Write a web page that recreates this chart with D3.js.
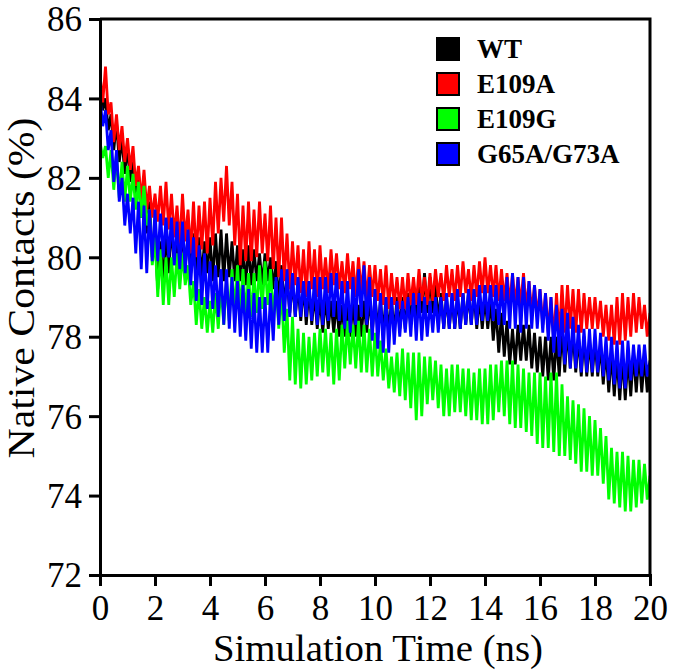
<!DOCTYPE html>
<html>
<head>
<meta charset="utf-8">
<script src="https://cdn.jsdelivr.net/npm/d3@7"></script>
<style>
  html, body { margin: 0; padding: 0; background: #fff; }
  svg { display: block; }
</style>
</head>
<body>
<svg id="chart" width="675" height="671"></svg>
<script>
// ---------------- data ----------------
const seriesNames = ["WT", "E109A", "E109G", "G65A/G73A"];
const seriesColors = ["#000000", "#ff0000", "#00ff00", "#0000ff"];
const xTicks = [0, 2, 4, 6, 8, 10, 12, 14, 16, 18, 20];
const yTicks = [72, 74, 76, 78, 80, 82, 84, 86];
const timeStepNs = 0.1;

const wtValues = [
84.2,83.7,84.0,83.2,83.6, 82.7,83.4,82.4,83.0,82.1, 82.8,81.9,82.5,81.5,82.1, 81.0,81.8,80.6,81.4,80.0,
80.6,79.2,80.4,79.3,80.7, 79.6,80.8,79.8,80.5,79.7, 80.6,79.8,80.5,79.6,80.6, 79.6,80.5,79.5,80.4,79.6,
80.5,79.4,80.6,79.5,80.7, 79.4,80.6,79.5,80.4,79.4, 80.3,79.4,80.2,79.3,80.3, 79.3,80.2,79.4,80.1,79.3,
80.1,79.4,80.0,79.2,79.9, 78.9,79.8,78.8,79.5,78.6, 79.4,78.5,79.3,78.4,79.3, 78.3,79.2,78.3,79.1,78.2,
79.0,78.1,79.0,78.2,78.9, 78.1,78.9,78.0,78.8,78.0, 78.8,78.0,78.9,78.0,78.8, 78.0,78.9,78.1,79.0,78.1,
79.0,78.2,78.9,78.1,79.0, 78.1,78.9,78.1,79.0,78.2, 79.0,78.2,79.1,78.3,79.3, 78.5,79.4,78.6,79.6,78.6,
79.5,78.6,79.3,78.4,79.1, 78.2,79.0,78.2,79.0,78.2, 79.0,78.2,79.1,78.3,79.1, 78.3,79.1,78.2,79.0,78.2,
79.0,78.2,78.9,77.9,78.7, 77.6,78.6,77.5,78.4,77.3, 78.2,77.3,78.3,77.4,78.3, 77.4,78.3,77.2,78.1,77.1,
78.0,77.0,78.0,76.9,78.0, 76.9,78.0,77.0,78.2,77.1, 78.2,77.2,78.1,77.1,78.0, 77.0,78.0,77.0,77.9,77.0,
77.9,77.0,77.8,76.8,77.7, 76.6,77.6,76.5,77.5,76.4, 77.5,76.4,77.5,76.5,77.6, 76.6,77.6,76.6,77.5,76.6,
77.2];

const e109aValues = [
84.6,83.9,84.8,83.6,83.9, 82.9,83.6,82.7,83.3,82.4, 83.0,82.2,82.8,81.8,82.3, 81.4,82.2,81.2,81.8,81.0,
81.6,80.9,81.8,80.8,81.9, 80.7,81.6,80.5,81.3,80.3, 81.6,80.4,81.2,80.1,81.4, 80.0,81.3,80.2,81.4,80.1,
81.5,80.3,81.9,80.6,82.0, 80.9,82.3,80.8,81.9,80.3, 81.6,79.8,81.3,79.9,81.4, 79.9,81.2,80.0,81.4,80.1,
81.1,79.9,81.3,79.7,81.0, 79.5,81.0,79.4,80.6,79.2, 80.4,79.3,80.3,79.1,80.2, 79.0,80.4,79.2,80.2,79.0,
80.3,79.2,80.0,79.1,80.2, 79.3,80.1,79.2,79.9,79.1, 80.1,79.2,79.9,79.0,80.0, 79.1,79.9,78.9,79.8,79.0,
79.8,78.9,79.7,78.8,79.8, 78.7,79.6,78.8,79.5,78.7, 79.5,78.7,79.6,78.8,79.5, 78.8,79.7,78.9,79.5,78.8,
79.6,78.9,79.7,79.0,79.6, 78.9,79.8,79.0,79.7,78.9, 79.8,79.0,79.9,79.1,79.7, 78.9,79.8,79.0,79.9,79.1,
80.0,79.1,79.8,79.0,79.8, 78.9,79.7,78.9,79.6,78.8, 79.6,78.8,79.5,78.8,79.6, 78.7,79.4,78.6,79.3,78.5,
79.2,78.3,79.1,78.1,79.0, 77.9,79.1,78.0,79.3,78.1, 79.3,78.2,79.2,78.1,79.2, 78.1,79.1,78.2,79.0,78.2,
79.0,78.2,78.9,78.0,78.8, 77.9,78.8,77.8,79.0,77.8, 79.1,77.9,79.0,78.0,79.1, 78.1,79.0,78.2,78.8,78.0,
78.6];

const e109gValues = [
82.9,82.5,82.8,82.0,82.7, 81.7,82.6,81.5,82.4,81.4, 82.3,81.4,82.1,81.2,81.9, 81.0,81.8,80.8,81.2,79.8,
80.5,79.0,80.2,78.8,80.0, 78.8,80.0,79.0,80.1,79.2, 80.1,79.3,79.8,78.8,79.4, 78.3,79.2,78.2,79.0,78.1,
78.9,78.1,79.1,78.2,79.3, 78.3,79.4,78.4,79.7,78.6, 79.8,78.6,79.7,78.5,79.6, 78.5,79.6,78.6,79.8,78.7,
79.9,78.8,79.7,78.5,79.4, 78.2,79.2,77.6,78.7,76.9, 78.5,76.8,78.2,76.7,78.1, 76.8,78.0,76.9,78.1,77.0,
78.2,77.1,78.2,77.0,78.1, 76.8,78.2,76.9,78.3,77.2, 78.4,77.3,78.3,77.2,78.4, 77.1,78.3,77.1,78.2,77.0,
78.1,77.0,77.9,76.9,77.7, 76.7,77.5,76.6,77.6,76.5, 77.7,76.4,77.6,76.2,77.6, 75.9,77.6,76.0,77.5,76.3,
77.5,76.4,77.4,76.2,77.3, 76.0,77.2,76.0,77.3,76.1, 77.3,76.1,77.2,76.0,77.2, 75.9,77.1,75.9,77.2,75.8,
77.2,75.8,77.3,75.9,77.3, 76.1,77.4,76.0,77.4,75.8, 77.4,75.7,77.3,75.7,77.2, 75.6,77.1,75.5,77.1,75.3,
77.1,75.2,77.0,75.2,77.1, 75.1,77.1,75.0,76.8,75.0, 76.5,74.9,76.4,74.8,76.3, 74.6,76.2,74.6,76.0,74.5,
75.9,74.5,75.7,74.3,75.5, 73.9,75.2,73.8,75.1,73.7, 75.1,73.6,75.0,73.6,74.9, 73.7,74.9,73.8,74.8,73.9,
74.5];

const g65aValues = [
84.0,83.3,83.7,82.7,83.2, 81.9,82.7,81.4,82.0,80.8, 81.6,80.6,81.5,80.1,81.4, 79.7,81.3,79.6,81.2,79.9,
81.2,79.9,81.1,80.0,81.0, 80.0,81.0,79.8,80.9,79.7, 80.9,79.6,80.7,79.3,80.5, 78.9,80.3,78.8,80.1,78.7,
79.9,78.7,79.8,78.5,79.7, 78.3,79.7,78.2,79.5,78.1, 79.4,78.0,79.3,77.9,79.2, 77.7,79.1,77.6,79.0,77.6,
79.0,77.6,79.1,77.9,79.5, 78.3,79.7,78.4,79.7,78.5, 79.6,78.5,79.5,78.5,79.4, 78.5,79.4,78.4,79.5,78.3,
79.5,78.3,79.5,78.4,79.6, 78.5,79.6,78.4,79.4,78.2, 79.4,78.1,79.5,78.3,79.7, 78.5,79.8,78.3,79.5,77.9,
79.2,77.7,79.1,77.6,79.0, 77.6,79.0,77.8,78.9,78.0, 78.9,78.1,79.0,78.0,79.1, 77.9,79.1,77.9,79.0,78.0,
78.9,78.1,79.0,78.1,79.0, 78.2,79.1,78.2,79.1,78.2, 79.2,78.2,79.1,78.3,79.2, 78.3,79.2,78.3,79.3,78.4,
79.3,78.4,79.3,78.4,79.3, 78.3,79.3,78.3,79.5,78.2, 79.6,78.2,79.5,78.1,79.5, 78.2,79.4,78.2,79.3,78.2,
79.2,78.1,79.1,77.9,79.0, 77.6,78.8,77.5,78.7,77.3, 78.6,77.2,78.5,77.2,78.3, 77.1,78.2,77.1,78.2,77.1,
78.2,77.1,78.1,77.0,78.0, 76.9,78.0,76.8,77.9,76.7, 77.9,76.7,77.9,76.9,77.8, 77.0,77.8,77.0,77.8,77.0,
77.4];

const allValues = [wtValues, e109aValues, e109gValues, g65aValues];

// ---------------- layout ----------------
const svg = d3.select("#chart");
const plot = { left: 100, right: 650, top: 19, bottom: 575 };

const x = d3.scaleLinear().domain([0, 20]).range([plot.left, plot.right]);
const y = d3.scaleLinear().domain([72, 86]).range([plot.bottom, plot.top]);

svg.append("defs").append("clipPath").attr("id", "clip")
  .append("rect")
  .attr("x", plot.left).attr("y", plot.top)
  .attr("width", plot.right - plot.left).attr("height", plot.bottom - plot.top);

// series lines
const line = d3.line()
  .x((d, i) => x(i * timeStepNs))
  .y(d => y(d));

const g = svg.append("g").attr("clip-path", "url(#clip)");
allValues.forEach((vals, k) => {
  g.append("path")
    .datum(vals)
    .attr("fill", "none")
    .attr("stroke", seriesColors[k])
    .attr("stroke-width", 2.8)
    .attr("stroke-linejoin", "bevel")
    .attr("d", line);
});

// frame (top & right)
svg.append("path")
  .attr("d", `M${plot.left},${plot.top}H${plot.right}V${plot.bottom}`)
  .attr("fill", "none").attr("stroke", "#000").attr("stroke-width", 3);

const serif = "'Liberation Serif', 'Times New Roman', serif";

// axes
const xAxis = d3.axisBottom(x).tickValues(xTicks).tickSize(11).tickPadding(9).tickFormat(d3.format("d"));
const yAxis = d3.axisLeft(y).tickValues(yTicks).tickSize(11).tickPadding(7).tickFormat(d3.format("d"));

const gx = svg.append("g").attr("transform", `translate(0,${plot.bottom})`).call(xAxis);
const gy = svg.append("g").attr("transform", `translate(${plot.left},0)`).call(yAxis);

[gx, gy].forEach(a => {
  a.select(".domain").attr("stroke", "#000").attr("stroke-width", 3);
  a.selectAll(".tick line").attr("stroke", "#000").attr("stroke-width", 3);
  a.selectAll(".tick text")
    .attr("fill", "#000")
    .style("font-family", serif)
    .style("font-size", "35px");
});
gx.selectAll(".tick text").attr("dy", "0.71em");
gy.selectAll(".tick text").attr("dy", "0.34em");

// axis titles
svg.append("text")
  .attr("x", 378)
  .attr("y", 661)
  .attr("text-anchor", "middle")
  .attr("textLength", 330)
  .attr("lengthAdjust", "spacingAndGlyphs")
  .style("font-family", serif)
  .style("font-size", "37px")
  .attr("fill", "#000")
  .text("Simulation Time (ns)");

svg.append("text")
  .attr("transform", `translate(34,288) rotate(-90)`)
  .attr("text-anchor", "middle")
  .attr("textLength", 341)
  .attr("lengthAdjust", "spacingAndGlyphs")
  .style("font-family", serif)
  .style("font-size", "37px")
  .attr("fill", "#000")
  .text("Native Contacts (%)");

// legend
const legend = svg.append("g").attr("transform", "translate(437,38)");
seriesNames.forEach((name, k) => {
  const row = legend.append("g").attr("transform", `translate(0,${k * 35})`);
  row.append("rect")
    .attr("x", 0).attr("y", 0).attr("width", 22).attr("height", 22)
    .attr("fill", seriesColors[k])
    .attr("stroke", "#000").attr("stroke-width", 2);
  row.append("text")
    .attr("x", 40).attr("y", 20)
    .style("font-family", serif)
    .style("font-size", "27px")
    .style("font-weight", "bold")
    .attr("fill", "#000")
    .text(name);
});
</script>
</body>
</html>
